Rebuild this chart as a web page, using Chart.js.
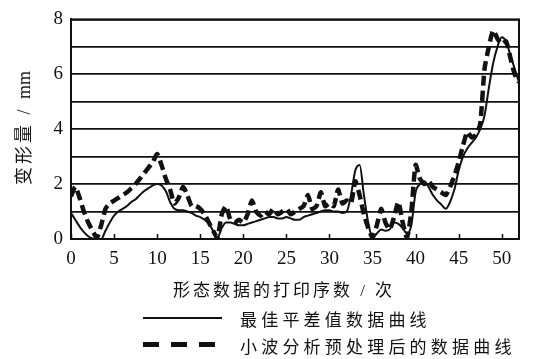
<!DOCTYPE html>
<html>
<head>
<meta charset="utf-8">
<script src="https://cdn.jsdelivr.net/npm/chart.js@4/dist/chart.umd.min.js"></script>
<style>
  html, body { margin: 0; padding: 0; background: #fff; }
  #wrap { position: relative; width: 536px; height: 359px; overflow: hidden; }
  #chart { position: absolute; left: 0; top: 0; }
  .txt { position: absolute; white-space: nowrap; color: #111;
         font-family: "Liberation Serif", "DejaVu Serif", "Noto Sans CJK SC", serif; font-size: 17px; }
  #ytitle { left: 22px; top: 128px; font-size: 18px; transform: translate(-50%, -50%) rotate(-90deg); }
  #ytitle .cjk { letter-spacing: 3px; }
  #xtitle { left: 284px; top: 288px; transform: translate(-50%, -50%); letter-spacing: 3px; }
  .lg-text { left: 240px; letter-spacing: 4.2px; transform: translateY(-50%); }
  .lg-solid { position: absolute; left: 143px; top: 317px; width: 79px; height: 2px; background: #111; }
  .lg-dash { position: absolute; left: 143px; top: 342px; width: 72px; height: 5px;
             background: repeating-linear-gradient(90deg, #111 0 16px, transparent 16px 28px); }
</style>
</head>
<body>
<div id="wrap">
  <canvas id="chart" width="536" height="359"></canvas>
  <div class="txt" id="ytitle"><span class="cjk">变形量 / </span>mm</div>
  <div class="txt" id="xtitle">形态数据的打印序数 / 次</div>
  <div class="lg-solid"></div>
  <div class="txt lg-text" style="top:318px">最佳平差值数据曲线</div>
  <div class="lg-dash"></div>
  <div class="txt lg-text" style="top:345px">小波分析预处理后的数据曲线</div>
</div>
<script>
// print sequence numbers (half-step sampling)
const prints = [
  0, 0.5, 1, 1.5, 2, 2.5, 3, 3.5, 4, 4.5, 5, 5.5, 6, 6.5, 7, 7.5, 8, 8.5, 9, 9.5,
  10, 10.5, 11, 11.5, 12, 12.5, 13, 13.5, 14, 14.5, 15, 15.5, 16, 16.5, 17, 17.5, 18, 18.5, 19, 19.5,
  20, 20.5, 21, 21.5, 22, 22.5, 23, 23.5, 24, 24.5, 25, 25.5, 26, 26.5, 27, 27.5, 28, 28.5, 29, 29.5,
  30, 30.5, 31, 31.5, 32, 32.5, 33, 33.5, 34, 34.5, 35, 35.5, 36, 36.5, 37, 37.5, 38, 38.5, 39, 39.5,
  40, 40.5, 41, 41.5, 42, 42.5, 43, 43.5, 44, 44.5, 45, 45.5, 46, 46.5, 47, 47.5, 48, 48.5, 49, 49.5,
  50, 50.5, 51, 51.5, 52
];

// best adjusted deformation (mm)
const adjusted = [
  0.95, 0.7, 0.45, 0.25, 0.1, 0.02, 0, 0, 0.3, 0.6, 0.85, 1.0, 1.1, 1.2, 1.35, 1.45, 1.6, 1.75, 1.85, 1.95,
  2.0, 1.95, 1.75, 1.35, 1.1, 1.05, 1.05, 1.0, 0.95, 0.85, 0.8, 0.7, 0.55, 0.3, 0.05, 0.4, 0.6, 0.6, 0.55, 0.5,
  0.5, 0.55, 0.6, 0.65, 0.7, 0.75, 0.8, 0.8, 0.75, 0.75, 0.8, 0.75, 0.7, 0.7, 0.8, 0.85, 0.9, 0.95, 1.0, 1.05,
  1.05, 1.0, 1.0, 0.95, 1.0, 1.6, 2.5, 2.7, 1.6, 0.6, 0.05, 0.2, 0.35, 0.3, 0.35, 0.6, 0.55, 0.4, 0.2, 0.5,
  1.7, 2.0, 2.1, 1.9, 1.6, 1.4, 1.25, 1.1, 1.35, 1.8, 2.5, 3.0, 3.3, 3.5, 3.7, 4.0, 4.5, 5.5, 6.4, 7.0,
  7.35, 7.2, 6.7, 6.2, 5.7
];

// wavelet-preprocessed deformation (mm)
const wavelet = [
  1.55, 1.9, 1.5, 1.0, 0.6, 0.3, 0.05, 0.5, 1.1, 1.3, 1.4, 1.5, 1.6, 1.7, 1.85, 2.0, 2.2, 2.4, 2.6, 2.8,
  3.1, 2.7, 2.2, 1.8, 1.3, 1.5, 1.9, 1.6, 1.2, 1.2, 1.1, 0.9, 0.6, 0.3, 0.05, 0.9, 1.2, 0.7, 0.6, 0.7,
  0.6, 0.9, 1.4, 1.0, 0.85, 1.0, 0.9, 1.1, 0.9, 1.0, 1.1, 0.9, 1.0, 1.1, 1.2, 1.6, 1.1, 1.2, 1.7, 1.2,
  1.3, 1.2, 1.8, 1.3, 1.4, 1.3, 2.1, 1.6, 0.9, 0.4, 0.05, 0.5, 1.1, 0.6, 0.35, 0.8, 1.35, 0.6, 0.05, 1.0,
  2.7, 2.2, 2.0, 2.1, 1.9, 1.8, 1.7, 1.6, 1.9, 2.3, 2.8, 3.4, 3.9, 3.7, 3.8, 4.2, 6.2, 7.0, 7.6, 7.3,
  7.1, 7.2, 6.6, 6.0, 5.7
];

const xTickValues = [0, 5, 10, 15, 20, 25, 30, 35, 40, 45, 50];
const yTickValues = [0, 1, 2, 3, 4, 5, 6, 7, 8];

const ink = '#111111';
const tickFont = { family: '"Liberation Serif", "DejaVu Serif", serif', size: 19 };

// frame around the plotting area plus short inward ticks on the x axis
const framePlugin = {
  id: 'frame',
  afterDatasetsDraw(chart) {
    const { ctx, chartArea: a, scales } = chart;
    ctx.save();
    ctx.strokeStyle = ink;
    ctx.lineWidth = 2;
    ctx.strokeRect(a.left, a.top, a.right - a.left, a.bottom - a.top);
    ctx.lineWidth = 1.5;
    ctx.beginPath();
    xTickValues.forEach(v => {
      const px = Math.round(scales.x.getPixelForValue(v)) + 0.5;
      ctx.moveTo(px, a.bottom);
      ctx.lineTo(px, a.bottom - 5);
    });
    ctx.stroke();
    ctx.restore();
  }
};

new Chart(document.getElementById('chart'), {
  type: 'line',
  data: {
    datasets: [
      {
        label: '最佳平差值数据曲线',
        data: prints.map((x, i) => ({ x, y: adjusted[i] })),
        borderColor: ink,
        borderWidth: 2,
        pointRadius: 0,
        tension: 0.4,
        cubicInterpolationMode: 'monotone',
        fill: false
      },
      {
        label: '小波分析预处理后的数据曲线',
        data: prints.map((x, i) => ({ x, y: wavelet[i] })),
        borderColor: ink,
        borderWidth: 4.5,
        borderDash: [10, 5],
        pointRadius: 0,
        tension: 0.2,
        fill: false
      }
    ]
  },
  options: {
    responsive: false,
    animation: false,
    events: [],
    layout: { padding: { top: 15, right: 17, left: 0, bottom: 0 } },
    plugins: { legend: { display: false }, tooltip: { enabled: false } },
    scales: {
      x: {
        type: 'linear',
        min: 0,
        max: 52,
        afterBuildTicks(scale) { scale.ticks = xTickValues.map(v => ({ value: v })); },
        afterFit(scale) { scale.height = 120; },
        grid: { display: false, drawTicks: false },
        border: { display: true, color: ink, width: 2 },
        ticks: { color: ink, font: tickFont, padding: 9, maxRotation: 0, autoSkip: false }
      },
      y: {
        type: 'linear',
        min: 0,
        max: 8,
        afterBuildTicks(scale) { scale.ticks = yTickValues.map(v => ({ value: v })); },
        afterFit(scale) { scale.width = 71; },
        grid: { color: ink, lineWidth: 1.8, drawTicks: false },
        border: { display: true, color: ink, width: 2 },
        ticks: {
          color: ink,
          font: tickFont,
          padding: 8,
          autoSkip: false,
          callback: v => (v % 2 === 0 ? String(v) : '')
        }
      }
    }
  },
  plugins: [framePlugin]
});
</script>
</body>
</html>
